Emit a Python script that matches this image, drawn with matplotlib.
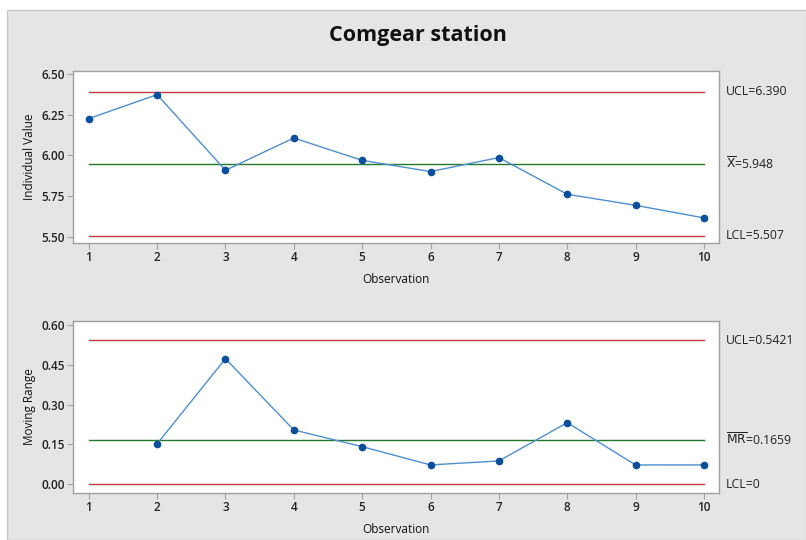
import matplotlib
matplotlib.use("Agg")
import matplotlib.pyplot as plt
from matplotlib.patches import Rectangle

plt.rcParams['font.family'] = ['Open Sans', 'DejaVu Sans']

observations = [1, 2, 3, 4, 5, 6, 7, 8, 9, 10]
individual = [6.226, 6.373, 5.909, 6.107, 5.970, 5.901, 5.987, 5.762, 5.694, 5.617]
mr_obs = [2, 3, 4, 5, 6, 7, 8, 9, 10]
moving_range = [0.152, 0.473, 0.2045, 0.1416, 0.0727, 0.0878, 0.232, 0.0727, 0.0727]
i_ucl, i_center, i_lcl = 6.390, 5.948, 5.507
mr_ucl, mr_center, mr_lcl = 0.5421, 0.1659, 0.0
i_yticks = [5.50, 5.75, 6.00, 6.25, 6.50]
mr_yticks = [0.00, 0.15, 0.30, 0.45, 0.60]
title = "Comgear station"

W, H = 806, 540
fig = plt.figure(figsize=(W / 100, H / 100), dpi=100)
fig.patch.set_facecolor('white')
fig.patches.append(Rectangle((7 / W, 0), 1 - 7 / W, 1 - 10 / H, transform=fig.transFigure,
                             facecolor='#e5e5e5', edgecolor='#c8c8c8', lw=1, zorder=-10))

RED = '#c0393b'
GREEN = '#217a2b'
BLUE_LINE = '#4f8fcf'
BLUE_MK = '#0b4f9c'


def box(l, t, r, b):
    return [l / W, 1 - b / H, (r - l) / W, (b - t) / H]


def style(ax, yticks, fmt):
    ax.set_facecolor('white')
    for s in ax.spines.values():
        s.set_color('#a0a0a0')
        s.set_linewidth(1.0)
    ax.set_xticks(observations)
    ax.set_xticklabels([str(o) for o in observations], fontsize=8.5, fontweight='semibold')
    ax.set_yticks(yticks)
    ax.set_yticklabels([fmt.format(v) for v in yticks], fontsize=8.5, fontweight='semibold')
    ax.tick_params(axis='both', colors='#a0a0a0', length=4, width=0.8, labelcolor='#222222', pad=2)
    ax.set_xlim(0.77, 10.22)
    ax.set_xlabel('Observation', fontsize=8.5, fontweight='medium', color='#111111', labelpad=6)


def lims(ax, x, vals, labels, colors):
    for v, lab, c in zip(vals, labels, colors):
        ax.plot([x[0], x[1]], [v, v], color=c, lw=1.0, zorder=2)
        ax.annotate(lab, xy=(1.0, v), xycoords=('axes fraction', 'data'),
                    xytext=(5, 0), textcoords='offset points', va='center', ha='left',
                    fontsize=8.8, color='#222222', annotation_clip=False)


# Individual chart
ax1 = fig.add_axes(box(73, 71, 719, 243))
ax1.set_ylim(5.463, 6.518)
style(ax1, i_yticks, '{:.2f}')
lims(ax1, (1, 10), [i_ucl, i_center, i_lcl],
     ['UCL=6.390', r'$\overline{\mathrm{X}}$=5.948', 'LCL=5.507'], [RED, GREEN, RED])
ax1.plot(observations, individual, color=BLUE_LINE, lw=1.0, zorder=3)
ax1.plot(observations, individual, 'o', color=BLUE_MK, ms=4.5, zorder=4)
ax1.set_ylabel('Individual Value', fontsize=8.5, fontweight='medium', color='#111111', labelpad=4)

# Moving range chart
ax2 = fig.add_axes(box(73, 321, 719, 493))
ax2.set_ylim(-0.033, 0.615)
style(ax2, mr_yticks, '{:.2f}')
lims(ax2, (1, 10), [mr_ucl, mr_center, mr_lcl],
     ['UCL=0.5421', r'$\overline{\mathrm{MR}}$=0.1659', 'LCL=0'], [RED, GREEN, RED])
ax2.plot(mr_obs, moving_range, color=BLUE_LINE, lw=1.0, zorder=3)
ax2.plot(mr_obs, moving_range, 'o', color=BLUE_MK, ms=4.5, zorder=4)
ax2.set_ylabel('Moving Range', fontsize=8.5, fontweight='medium', color='#111111', labelpad=4)

fig.text(418 / W, 1 - 35 / H, title, ha='center', va='center', fontsize=15.5, fontweight='bold', color='#111111')

fig.savefig('out.png', dpi=100, facecolor=fig.get_facecolor())
